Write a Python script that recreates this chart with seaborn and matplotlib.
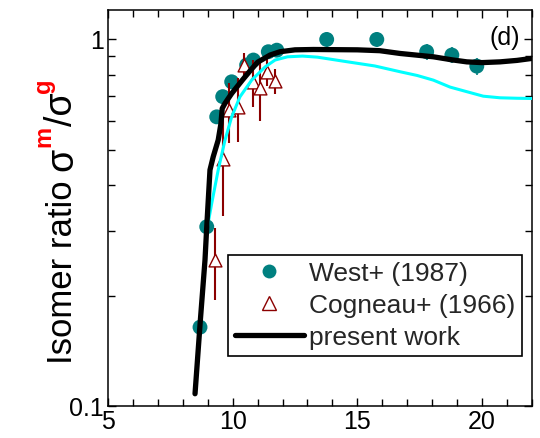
import numpy as np
import pandas as pd
import matplotlib
matplotlib.use("Agg")
import matplotlib.pyplot as plt
import seaborn as sns
from matplotlib.lines import Line2D
from matplotlib.ticker import FixedLocator, FixedFormatter, NullFormatter

# ---------------- data ----------------
west_x = [8.69, 8.96, 9.36, 9.60, 9.96, 10.56, 10.83, 11.43, 11.77, 13.77, 15.78, 17.78, 18.79, 19.79]
west_y = [0.164, 0.308, 0.614, 0.697, 0.765, 0.850, 0.877, 0.924, 0.933, 0.998, 0.998, 0.924, 0.905, 0.844]
west_err = [0.008, 0.015, 0.02, 0.02, 0.02, 0.03, 0.03, 0.04, 0.04, 0.045, 0.045, 0.045, 0.045, 0.045]

cog_x = [9.29, 9.60, 9.87, 10.23, 10.47, 10.80, 11.10, 11.39, 11.70]
cog_y = [0.250, 0.470, 0.640, 0.654, 0.850, 0.765, 0.738, 0.814, 0.768]
cog_err = [0.055, 0.140, 0.120, 0.130, 0.065, 0.110, 0.140, 0.070, 0.060]

pw_x = [8.49, 8.70, 8.89, 8.96, 9.09, 9.22, 9.42, 9.53, 9.58, 9.69, 9.96, 10.40, 10.70, 11.00,
        11.50, 11.90, 12.50, 13.24, 15.00, 15.90, 16.71, 18.05, 18.80, 19.39, 20.00, 20.72, 21.40, 22.00]
pw_y = [0.108, 0.170, 0.250, 0.308, 0.440, 0.478, 0.531, 0.589, 0.647, 0.668, 0.711, 0.775, 0.820, 0.865,
        0.905, 0.924, 0.935, 0.937, 0.935, 0.930, 0.914, 0.895, 0.878, 0.867, 0.863, 0.867, 0.875, 0.886]

cy_x = [8.96, 9.16, 9.42, 9.69, 9.96, 10.29, 10.76, 11.30, 11.70, 12.20, 12.80, 13.40, 14.57, 15.70,
        16.71, 17.40, 18.05, 18.72, 19.39, 20.05, 20.72, 21.40, 22.00]
cy_y = [0.300, 0.357, 0.440, 0.530, 0.614, 0.696, 0.773, 0.840, 0.877, 0.895, 0.899, 0.893, 0.868, 0.845,
        0.815, 0.796, 0.773, 0.740, 0.719, 0.699, 0.692, 0.690, 0.689]

x_major = [5, 10, 15, 20]
y_major = [0.1, 1]
y_major_labels = ["0.1", "1"]
legend_labels = ["West+ (1987)", "Cogneau+ (1966)", "present work"]

# ---------------- style ----------------
sns.set_theme(style="ticks")
plt.rcParams["font.family"] = ["Liberation Sans", "DejaVu Sans"]

TEAL = "#008080"
DRED = "#8B0000"
CYAN = "#00FFFF"

fig = plt.figure(figsize=(5.4, 4.38), dpi=100)
ax = fig.add_axes([0.2, 0.073, 0.785, 0.904])

west = pd.DataFrame({"x": west_x, "y": west_y})
cog = pd.DataFrame({"x": cog_x, "y": cog_y})

ax.errorbar(west_x, west_y, yerr=west_err, fmt="none", ecolor=TEAL, elinewidth=1.2, capsize=0, zorder=2)
sns.scatterplot(data=west, x="x", y="y", ax=ax, color=TEAL, marker="o", s=115,
                edgecolor="none", zorder=3)
ax.errorbar(cog_x, cog_y, yerr=cog_err, fmt="none", ecolor=DRED, elinewidth=1.5, capsize=0, zorder=4)
sns.scatterplot(data=cog, x="x", y="y", ax=ax, marker="^", s=85, facecolor="white",
                edgecolor=DRED, linewidth=1.0, zorder=5)

sns.lineplot(x=cy_x, y=cy_y, ax=ax, sort=False, estimator=None, color=CYAN, lw=2.2, zorder=6)
sns.lineplot(x=pw_x, y=pw_y, ax=ax, sort=False, estimator=None, color="black", lw=3.8, zorder=7,
             solid_capstyle="round", solid_joinstyle="round")

ax.set_yscale("log")
ax.set_xlim(5, 22)
ax.set_ylim(0.1, 1.2)
ax.xaxis.set_major_locator(FixedLocator(x_major))
ax.xaxis.set_minor_locator(FixedLocator(list(range(5, 23))))
ax.yaxis.set_major_locator(FixedLocator(y_major))
ax.yaxis.set_major_formatter(FixedFormatter(y_major_labels))
ax.yaxis.set_minor_locator(FixedLocator([0.2, 0.3, 0.4, 0.5, 0.6, 0.7, 0.8, 0.9]))
ax.yaxis.set_minor_formatter(NullFormatter())
ax.tick_params(which="both", direction="in", top=True, right=True, width=1.0, colors="black",
               labelsize=18)
ax.tick_params(which="major", length=6, pad=3)
ax.tick_params(which="minor", length=5)
for s in ax.spines.values():
    s.set_linewidth(1.1)
    s.set_color("black")
ax.set_xlabel("")
ax.set_ylabel("")

ax.text(0.972, 0.929, "(d)", transform=ax.transAxes, ha="right", va="center", fontsize=18, color="black")

handles = [
    Line2D([], [], marker="o", ls="none", color=TEAL, markersize=10, markeredgecolor="none"),
    Line2D([], [], marker="^", ls="none", markerfacecolor="white", markeredgecolor=DRED, markersize=10),
    Line2D([], [], color="black", lw=3.8),
]
leg = ax.legend(handles, legend_labels, loc="lower right", bbox_to_anchor=(0.976, 0.126),
                fontsize=19, frameon=True, fancybox=False, framealpha=1, edgecolor="black",
                handlelength=2.6, handletextpad=0.2, labelspacing=0.3, borderpad=0.25,
                borderaxespad=0)
leg.get_frame().set_linewidth(1.2)
fig.canvas.draw()
# shrink the frame's left padding so the line handle starts at the border, as in the original
fr = leg.get_frame()
fr.set_x(fr.get_x() + 6)
fr.set_width(fr.get_width() - 6)

# ---------------- y label with coloured superscripts ----------------
renderer = fig.canvas.get_renderer()
pieces = [
    ("Isomer ratio ", "black", 25, "normal", 0),
    ("σ", "black", 27, "normal", 0),
    ("m", "red", 17, "bold", 1),
    ("/σ", "black", 27, "normal", 0),
    ("g", "red", 17, "bold", 1),
]
x0 = 72 / 540
y = 1 - 364 / 438
sup_shift = 22 / 540
for s, c, fs, fw, sup in pieces:
    t = fig.text(x0 - sup * sup_shift, y, s, rotation=90, rotation_mode="anchor",
                 ha="left", va="baseline", fontsize=fs, color=c, fontweight=fw)
    bb = t.get_window_extent(renderer)
    y += bb.height / fig.bbox.height

fig.savefig("out.png", dpi=100)
